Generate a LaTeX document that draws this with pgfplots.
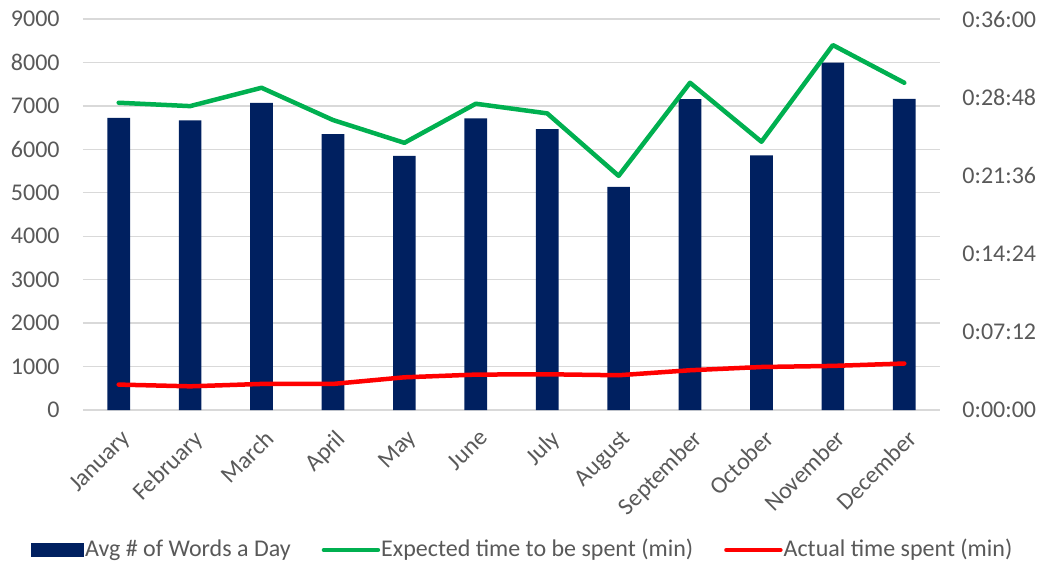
\documentclass[border=0pt]{standalone}
\usepackage{pgfplots}
\pgfplotsset{compat=1.18}
\usepackage{fontspec}
\setmainfont{Carlito}
\definecolor{navy}{HTML}{002060}
\definecolor{xlgreen}{HTML}{00B050}
\definecolor{xlred}{HTML}{FF0000}
\definecolor{txt}{HTML}{595959}
\definecolor{grid}{HTML}{D9D9D9}
\begin{document}
\fontsize{12pt}{14pt}\selectfont
\begin{tikzpicture}
\path[use as bounding box] (0,0) rectangle (520pt,282pt);
\begin{axis}[
  at={(41.5pt,77pt)}, anchor=south west,
  scale only axis, width=428.5pt, height=195.5pt,
  xmin=-0.5, xmax=11.5, ymin=0, ymax=9000,
  ytick={0,1000,...,9000},
  axis line style={draw=none},
  major tick length=0pt,
  ymajorgrids, grid style={color=grid, line width=0.65pt},
  xtick={0,...,11},
  xticklabels={January,February,March,April,May,June,July,August,September,October,November,December},
  xticklabel style={xshift=1pt, yshift=-9pt, rotate=45, anchor=north east, inner sep=0pt, text=txt},
  yticklabel style={inner sep=0pt, xshift=-11.5pt, text=txt},
  /pgf/number format/assume math mode=true,
  /pgf/number format/set thousands separator={},
  ybar, bar width=11.35pt,
]
\addplot[fill=navy, draw=none] coordinates {
 (0,6727) (1,6667) (2,7072) (3,6351) (4,5851) (5,6713)
 (6,6466) (7,5137) (8,7157) (9,5860) (10,7994) (11,7164)};
\end{axis}
\begin{axis}[
  at={(41.5pt,77pt)}, anchor=south west,
  scale only axis, width=428.5pt, height=195.5pt,
  xmin=-0.5, xmax=11.5, ymin=0, ymax=36,
  axis y line*=right, axis x line=none,
  axis line style={draw=none},
  major tick length=0pt,
  xtick=\empty,
  ytick={0,7.2,14.4,21.6,28.8,36},
  yticklabels={0:00:00,0:07:12,0:14:24,0:21:36,0:28:48,0:36:00},
  yticklabel style={inner sep=0pt, xshift=11pt, anchor=west, text=txt},
  legend columns=3,
  legend style={at={(-0.0607,-0.358)}, anchor=west, draw=none, inner sep=0pt,
    text=txt, font=\fontsize{12pt}{14pt}\selectfont,
    /tikz/every even column/.append style={column sep=15pt},
    nodes={inner xsep=0.5pt, inner ysep=0pt}},
]
\addlegendimage{legend image code/.code={\fill[navy] (0pt,-3.25pt) rectangle (26pt,3.25pt);}}
\addlegendentry{Avg \# of Words a Day}
\addplot[color=xlgreen, line width=2.25pt, line cap=round, line join=round,
  legend image code/.code={\draw[xlgreen, line width=2.25pt, line cap=round] (0.5pt,0pt) -- (27.5pt,0pt);}]
 coordinates {
 (0,28.29) (1,27.98) (2,29.67) (3,26.70) (4,24.60) (5,28.20)
 (6,27.31) (7,21.56) (8,30.13) (9,24.70) (10,33.60) (11,30.13)};
\addlegendentry{Expected time to be spent (min)}
\addplot[color=xlred, line width=2.25pt, line cap=round, line join=round,
  legend image code/.code={\draw[xlred, line width=2.25pt, line cap=round] (0.5pt,0pt) -- (27.5pt,0pt);}]
 coordinates {
 (0,2.34) (1,2.18) (2,2.40) (3,2.40) (4,3.01) (5,3.26)
 (6,3.29) (7,3.20) (8,3.66) (9,3.96) (10,4.06) (11,4.28)};
\addlegendentry{Actual time spent (min)}
\end{axis}
\end{tikzpicture}
\end{document}
